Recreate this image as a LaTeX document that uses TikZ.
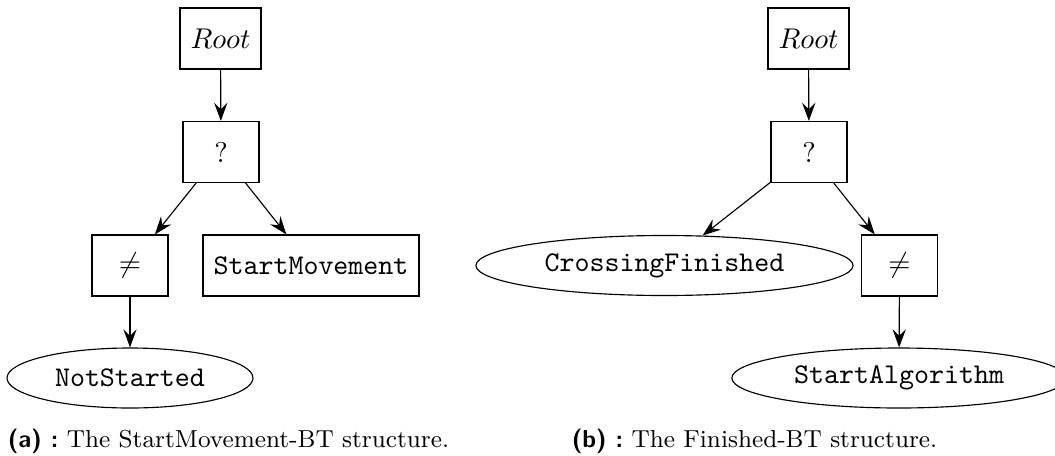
\documentclass[tikz,border=0pt]{standalone}
\usetikzlibrary{arrows.meta,shapes.geometric}
\begin{document}
\begin{tikzpicture}[x=0.35pt,y=-0.35pt,
  box/.style={draw, rectangle, inner sep=0pt, minimum height=21.35pt},
  leaf/.style={draw, ellipse, inner sep=0pt, minimum height=21pt},
  link/.style={-{Stealth[length=6.3pt,width=4.6pt,inset=2.2pt]}},
  captext/.style={font=\fontsize{8.6}{10}\selectfont, anchor=base, inner sep=0pt}]
\useasboundingbox (0,0) rectangle (1055,455);

% (a) StartMovement behaviour tree
\node[box, minimum width=28.35pt] (rootA) at (220.5,38.5) {$Root$};
\node[box, minimum width=26.6pt]  (selA)  at (221,152)    {?};
\node[box, minimum width=26.6pt]  (invA)  at (130,265.5)  {$\neq$};
\node[box, minimum width=75.6pt]  (moveA) at (311,265.5)  {\texttt{StartMovement}};
\node[leaf, minimum width=86.1pt] (notA)  at (130,378)    {\texttt{NotStarted}};

\draw[link] (rootA) -- (selA);
\draw[link] (selA) -- (invA);
\draw[link] (selA) -- (moveA);
\draw[link] (invA) -- (notA);

% (b) Finished behaviour tree
\node[box, minimum width=28.35pt] (rootB)  at (808.5,38.5) {$Root$};
\node[box, minimum width=26.6pt]  (selB)   at (809,152)    {?};
\node[leaf, minimum width=132pt]  (crossB) at (664.5,265.5) {\texttt{CrossingFinished}};
\node[box, minimum width=26.6pt]  (invB)   at (899.5,265.5) {$\neq$};
\node[leaf, minimum width=117pt]  (algB)   at (899,378)    {\texttt{StartAlgorithm}};

\draw[link] (rootB) -- (selB);
\draw[link] (selB) -- (crossB);
\draw[link] (selB) -- (invB);
\draw[link] (invB) -- (algB);

% captions
\node[captext] (capA) at (228.5,447) {{\sffamily\bfseries (a) :}\ The StartMovement-BT structure.};
\node[captext] (capB) at (754.5,447) {{\sffamily\bfseries (b) :}\ The Finished-BT structure.};
\end{tikzpicture}
\end{document}
